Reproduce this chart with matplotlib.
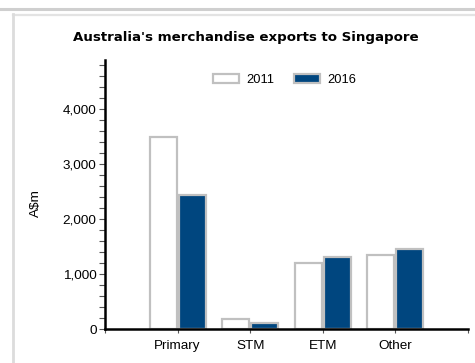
import numpy as np
import matplotlib
matplotlib.use("Agg")
import matplotlib.pyplot as plt
from matplotlib.ticker import MultipleLocator, FuncFormatter, FixedLocator
from matplotlib.lines import Line2D

categories = ["Primary", "STM", "ETM", "Other"]
exports_2011 = [3500, 190, 1200, 1350]
exports_2016 = [2450, 105, 1320, 1460]
years = ["2011", "2016"]

blue = "#00467f"
edge = "#c0c0c0"

plt.rcParams["font.family"] = ["Liberation Sans", "DejaVu Sans"]

fig = plt.figure(figsize=(4.75, 3.63), dpi=100)
ax = fig.add_axes([105 / 475, 1 - 329 / 363, 363 / 475, 269 / 363])

x = np.arange(len(categories))
w = 0.37
off = 0.2
ax.bar(x - off, exports_2011, w, color="white", edgecolor=edge, linewidth=1.6, label=years[0])
ax.bar(x + off, exports_2016, w, color=blue, edgecolor=edge, linewidth=1.6, label=years[1])

ax.set_xlim(-1, 4)
ax.set_ylim(0, 4900)
ax.set_xticks(x)
ax.set_xticklabels(categories, fontsize=9.7)
ax.xaxis.set_minor_locator(FixedLocator([-1, 4]))
ax.yaxis.set_major_locator(MultipleLocator(1000))
ax.yaxis.set_minor_locator(MultipleLocator(200))
ax.yaxis.set_major_formatter(FuncFormatter(lambda v, p: f"{int(v):,}"))
ax.tick_params(axis="y", which="both", length=4.5, width=0.8, color="#555555", labelsize=9.7, pad=1.5)
ax.tick_params(axis="x", which="both", length=3, width=0.8, color="#555555", pad=5)

for s in ["top", "right"]:
    ax.spines[s].set_visible(False)
for s in ["left", "bottom"]:
    ax.spines[s].set_linewidth(1.8)
    ax.spines[s].set_color("black")

ax.set_ylabel(r"A\$m", fontsize=9.7)
ax.yaxis.set_label_coords(-0.175, 0.47)

leg = ax.legend(loc="center", bbox_to_anchor=(0.495, 0.926), ncol=2, frameon=False,
                fontsize=9.3, handlelength=2.0, handleheight=0.75, columnspacing=1.5,
                handletextpad=0.6)

fig.text(0.517, 1 - 38 / 363, "Australia's merchandise exports to Singapore",
         ha="center", va="center", fontsize=9.6, fontweight="bold", family="DejaVu Sans")

# outer frame lines
fig.add_artist(Line2D([0, 1], [1 - 8.5 / 363] * 2, color="#cfcfcf", linewidth=2.2))
fig.add_artist(Line2D([12.5 / 475, 1], [1 - 14.5 / 363] * 2, color="#e3e3e3", linewidth=1.6))
fig.add_artist(Line2D([13 / 475] * 2, [0, 1 - 14 / 363], color="#dcdcdc", linewidth=2.0))

fig.savefig("out.png", dpi=100)
